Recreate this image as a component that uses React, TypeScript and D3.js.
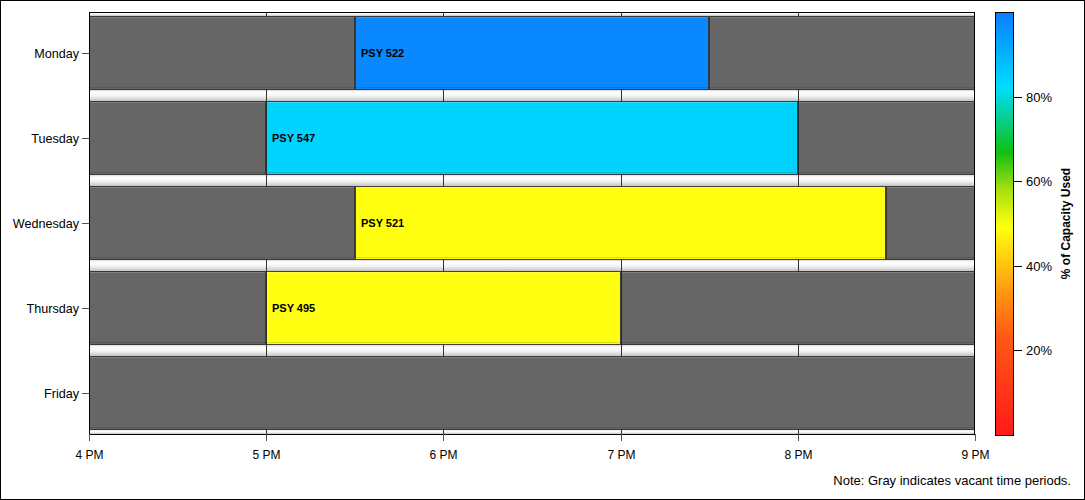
import React from "react";
import * as d3 from "d3";

// schedule data
const days = ["Monday", "Tuesday", "Wednesday", "Thursday", "Friday"];
const courses = ["PSY 522", "PSY 547", "PSY 521", "PSY 495", ""];
const startHours = [17.5, 17, 17.5, 17, 0];
const endHours = [19.5, 20, 20.5, 19, 0];
const capacityUsed = [98, 84, 49, 49, 0];

const hourTicks = [16, 17, 18, 19, 20, 21];
const hourLabels = ["4 PM", "5 PM", "6 PM", "7 PM", "8 PM", "9 PM"];
const legendTicks = [20, 40, 60, 80];

// colour ramp for % of capacity used
const rampStops = [0, 23.6, 34.3, 49.2, 58, 66.9, 82.3, 100];
const rampColors = ["#ff1a1a", "#ff5a14", "#ff9a10", "#ffff10", "#a8e010", "#10c010", "#00dcff", "#0a7dff"];

const W = 1085;
const H = 500;
const plot = { left: 89, right: 975, top: 12, bottom: 434 };

const App = () => {
  const x = d3.scaleLinear().domain([16, 21]).range([plot.left, plot.right]);
  const y = d3
    .scaleBand()
    .domain(days)
    .range([plot.top, plot.bottom])
    .paddingInner(0.129)
    .paddingOuter(0.047);
  const color = d3.scaleLinear<string>().domain(rampStops).range(rampColors).interpolate(d3.interpolateRgb);
  const legendY = d3.scaleLinear().domain([0, 100]).range([435, 12]);

  const bw = y.bandwidth();

  // gaps between bars (top, between, bottom)
  const gaps: { y0: number; y1: number }[] = [];
  let prev = plot.top;
  days.forEach((d) => {
    gaps.push({ y0: prev, y1: y(d)! });
    prev = y(d)! + bw;
  });
  gaps.push({ y0: prev, y1: plot.bottom });

  // segments per day: gray before, course, gray after
  const segs: { day: string; x0: number; x1: number; fill: string; label: string }[] = [];
  days.forEach((d, i) => {
    if (!courses[i]) {
      segs.push({ day: d, x0: 16, x1: 21, fill: "#666666", label: "" });
      return;
    }
    segs.push({ day: d, x0: 16, x1: startHours[i], fill: "#666666", label: "" });
    segs.push({ day: d, x0: startHours[i], x1: endHours[i], fill: color(capacityUsed[i]), label: courses[i] });
    segs.push({ day: d, x0: endHours[i], x1: 21, fill: "#666666", label: "" });
  });

  const font = "Arial, 'Liberation Sans', sans-serif";

  return (
    <svg width={W} height={H} style={{ position: "absolute", left: 0, top: 0 }} fontFamily={font}>
      <defs>
        <linearGradient id="gapGrad" x1="0" y1="0" x2="0" y2="1">
          <stop offset="0" stopColor="#dcdcdc" />
          <stop offset="0.2" stopColor="#ffffff" />
          <stop offset="0.55" stopColor="#f4f4f4" />
          <stop offset="1" stopColor="#c4c4c4" />
        </linearGradient>
        <linearGradient id="rampGrad" x1="0" y1="1" x2="0" y2="0">
          {rampStops.map((s, i) => (
            <stop key={i} offset={s / 100} stopColor={rampColors[i]} />
          ))}
        </linearGradient>
      </defs>
      <rect x={0.5} y={0.5} width={W - 1} height={H - 1} fill="#fff" stroke="#000" />

      {/* gaps */}
      {gaps.map((g, i) => (
        <rect key={i} x={plot.left} y={g.y0} width={plot.right - plot.left} height={g.y1 - g.y0} fill="url(#gapGrad)" />
      ))}
      {/* gridlines */}
      {hourTicks.slice(1, -1).map((h) => (
        <line key={h} x1={Math.round(x(h)) + 0.5} x2={Math.round(x(h)) + 0.5} y1={plot.top} y2={plot.bottom} stroke="#333" />
      ))}

      {/* bars */}
      {segs.map((s, i) => {
        const x0 = Math.round(x(s.x0));
        const x1 = Math.round(x(s.x1));
        const y0 = Math.round(y(s.day)!);
        const h = Math.round(bw);
        return (
          <g key={i}>
            <rect x={x0 + 0.5} y={y0 + 0.5} width={x1 - x0 - 1} height={h - 1} fill={s.fill} stroke="#222" strokeOpacity={0.85} />
            <line x1={x0 + 1} x2={x1 - 1} y1={y0 + 1.5} y2={y0 + 1.5} stroke="#fff" strokeOpacity={0.18} />
            <line x1={x0 + 1} x2={x1 - 1} y1={y0 + h - 2.5} y2={y0 + h - 2.5} stroke="#000" strokeOpacity={0.12} />
            {s.label && (
              <text x={x0 + 6} y={y0 + h / 2} dy="0.35em" fontSize={11} fontWeight="bold" fill="#000">
                {s.label}
              </text>
            )}
          </g>
        );
      })}

      {/* frame */}
      <rect x={plot.left + 0.5} y={plot.top + 0.5} width={plot.right - plot.left - 1} height={plot.bottom - plot.top} fill="none" stroke="#000" />

      {/* y axis */}
      {days.map((d) => {
        const cy = Math.round(y(d)! + bw / 2) + 0.5;
        return (
          <g key={d}>
            <line x1={82} x2={plot.left} y1={cy} y2={cy} stroke="#555" />
            <text x={79} y={cy} dy="0.35em" textAnchor="end" fontSize={12.6} fill="#000">
              {d}
            </text>
          </g>
        );
      })}

      {/* x axis */}
      {hourTicks.map((h, i) => {
        const cx = Math.round(x(h)) + 0.5;
        return (
          <g key={h}>
            <line x1={cx} x2={cx} y1={plot.bottom} y2={plot.bottom + 7} stroke="#555" />
            <text x={cx} y={459} textAnchor="middle" fontSize={12} fill="#000">
              {hourLabels[i]}
            </text>
          </g>
        );
      })}

      {/* colour legend */}
      <rect x={995.5} y={12.5} width={18} height={423} fill="url(#rampGrad)" stroke="#000" />
      {legendTicks.map((t) => {
        const ty = Math.round(legendY(t)) + 0.5;
        return (
          <g key={t}>
            <line x1={1014} x2={1022} y1={ty} y2={ty} stroke="#000" />
            <text x={1026} y={ty} dy="0.35em" fontSize={13} fill="#000">
              {t}%
            </text>
          </g>
        );
      })}
      <text
        transform={`translate(1070, ${legendY(50)}) rotate(-90)`}
        textAnchor="middle"
        fontSize={12}
        fontWeight="bold"
        fill="#000"
      >
        % of Capacity Used
      </text>

      <text x={1071} y={485} textAnchor="end" fontSize={13} fill="#000">
        Note: Gray indicates vacant time periods.
      </text>
    </svg>
  );
};

export default App;
